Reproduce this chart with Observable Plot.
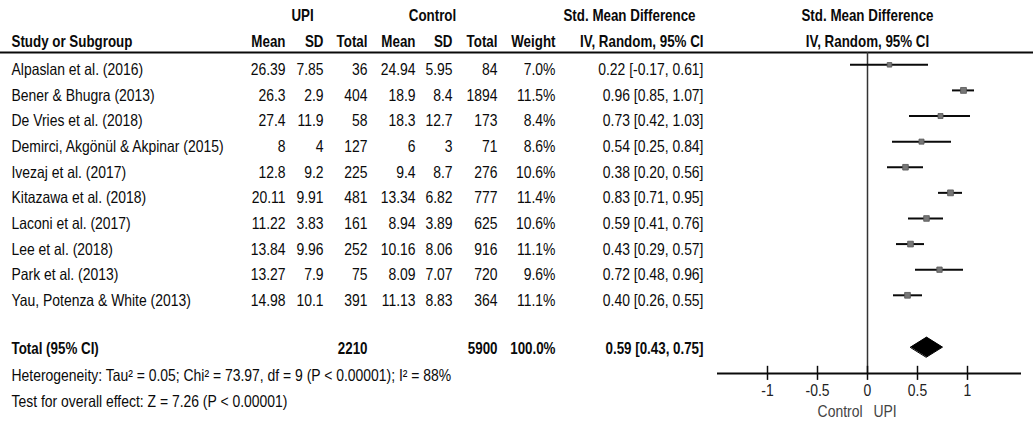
<!DOCTYPE html>
<html>
<head>
<meta charset="utf-8">
<script src="https://cdn.jsdelivr.net/npm/d3@7"></script>
<script src="https://cdn.jsdelivr.net/npm/@observablehq/plot@0.6"></script>
<style>
  html, body { margin: 0; padding: 0; background: #fff; }
  #chart svg { display: block; }
</style>
</head>
<body>
<div id="chart"></div>
<script>
// ---- Data ----
const studies = ["Alpaslan et al. (2016)", "Bener & Bhugra (2013)", "De Vries et al. (2018)",
  "Demirci, Akgönül & Akpinar (2015)", "Ivezaj et al. (2017)", "Kitazawa et al. (2018)",
  "Laconi et al. (2017)", "Lee et al. (2018)", "Park et al. (2013)", "Yau, Potenza & White (2013)"];
const upiMean = [26.39, 26.3, 27.4, 8, 12.8, 20.11, 11.22, 13.84, 13.27, 14.98];
const upiSD   = [7.85, 2.9, 11.9, 4, 9.2, 9.91, 3.83, 9.96, 7.9, 10.1];
const upiN    = [36, 404, 58, 127, 225, 481, 161, 252, 75, 391];
const ctlMean = [24.94, 18.9, 18.3, 6, 9.4, 13.34, 8.94, 10.16, 8.09, 11.13];
const ctlSD   = [5.95, 8.4, 12.7, 3, 8.7, 6.82, 3.89, 8.06, 7.07, 8.83];
const ctlN    = [84, 1894, 173, 71, 276, 777, 625, 916, 720, 364];
const weight  = [7.0, 11.5, 8.4, 8.6, 10.6, 11.4, 10.6, 11.1, 9.6, 11.1];
const smd     = [0.22, 0.96, 0.73, 0.54, 0.38, 0.83, 0.59, 0.43, 0.72, 0.40];
const ciLow   = [-0.17, 0.85, 0.42, 0.25, 0.20, 0.71, 0.41, 0.29, 0.48, 0.26];
const ciHigh  = [0.61, 1.07, 1.03, 0.84, 0.56, 0.95, 0.76, 0.57, 0.96, 0.55];
const totalUpiN = 2210, totalCtlN = 5900, totalWeight = 100.0;
const totalSmd = 0.59, totalLow = 0.43, totalHigh = 0.75;
const heterogeneityText = "Heterogeneity: Tau² = 0.05; Chi² = 73.97, df = 9 (P < 0.00001); I² = 88%";
const overallText = "Test for overall effect: Z = 7.26 (P < 0.00001)";
const axisTicks = [-1, -0.5, 0, 0.5, 1];
const tickLabels = ["-1", "-0.5", "0", "0.5", "1"];
const axisExtent = [-1.5, 1.54];

// ---- Table built from the arrays ----
const rows = studies.map((s, i) => ({
  i, study: s, upiMean: upiMean[i], upiSD: upiSD[i], upiN: upiN[i],
  ctlMean: ctlMean[i], ctlSD: ctlSD[i], ctlN: ctlN[i], weight: weight[i],
  smd: smd[i], lo: ciLow[i], hi: ciHigh[i]
}));
const fmtW = w => w.toFixed(1) + "%";
const fmtCI = (e, l, h) => `${e.toFixed(2)} [${l.toFixed(2)}, ${h.toFixed(2)}]`;

// ---- Layout (row index units on y, pixel offsets for table columns) ----
const Y = { head1: -2.13, head2: -1.11, rule: -0.68, total: 10.89, het: 11.93, test: 12.95,
            axis: 11.85, tickLab: 12.52, dirLab: 13.33 };
const forestDy = -5.2;
const cols = [
  {key: "upiMean", dx: 285}, {key: "upiSD", dx: 323}, {key: "upiN", dx: 367},
  {key: "ctlMean", dx: 415}, {key: "ctlSD", dx: 452}, {key: "ctlN", dx: 497},
  {key: "weight", dx: 555, fmt: fmtW}
];
const font = "'Liberation Sans', Arial, sans-serif";
const fs = 16.3;
const narrowRegular = 0.855, narrowBold = 0.82;   // emulate Arial Narrow
const ink = "#0a0a0a";
const k = v => () => v;

const colMarks = cols.map(c => Plot.text(rows, {
  y: "i", text: d => c.fmt ? c.fmt(d[c.key]) : String(d[c.key]),
  frameAnchor: "left", dx: c.dx, textAnchor: "end", fill: ink, fontSize: fs
}));

const headers1 = [
  {t: "UPI", dx: 302}, {t: "Control", dx: 432}, {t: "Std. Mean Difference", dx: 629}
];
const headers2 = [
  {t: "Mean", dx: 285}, {t: "SD", dx: 323}, {t: "Total", dx: 367},
  {t: "Mean", dx: 415}, {t: "SD", dx: 452}, {t: "Total", dx: 497},
  {t: "Weight", dx: 555}, {t: "IV, Random, 95% CI", dx: 703}
];

const diamond = [
  {x: totalLow, y: Y.total - 0.07},
  {x: totalSmd, y: Y.total - 0.07 - 0.39},
  {x: totalHigh, y: Y.total - 0.07},
  {x: totalSmd, y: Y.total - 0.07 + 0.39}
];

const chart = Plot.plot({
  width: 1033, height: 436,
  marginTop: 0, marginRight: 0, marginBottom: 0, marginLeft: 0,
  style: { fontFamily: font, background: "#fff" },
  x: { domain: [-8.67, 1.66], range: [0, 1033], axis: null },
  y: { domain: [0, 9], range: [69.5, 300], axis: null },
  r: { type: "sqrt", domain: [0, 11.5], range: [0, 3.3] },
  marks: [
    // header rule
    Plot.ruleY([Y.rule], {y: d => d, stroke: ink, strokeWidth: 2}),
    // headers
    ...headers1.map(h => Plot.text([h.t], {y: k(Y.head1), frameAnchor: "left", dx: h.dx, textAnchor: "middle", text: d => d, fontWeight: "bold", fontSize: fs, fill: ink})),
    Plot.text(["Std. Mean Difference"], {y: k(Y.head1), x: k(0), text: d => d, fontWeight: "bold", fontSize: fs, fill: ink}),
    Plot.text(["IV, Random, 95% CI"], {y: k(Y.head2), x: k(0), text: d => d, fontWeight: "bold", fontSize: fs, fill: ink}),
    Plot.text(["Study or Subgroup"], {y: k(Y.head2), frameAnchor: "left", dx: 11, textAnchor: "start", text: d => d, fontWeight: "bold", fontSize: fs, fill: ink}),
    ...headers2.map(h => Plot.text([h.t], {y: k(Y.head2), frameAnchor: "left", dx: h.dx, textAnchor: "end", text: d => d, fontWeight: "bold", fontSize: fs, fill: ink})),
    // study rows
    Plot.text(rows, {y: "i", text: "study", frameAnchor: "left", dx: 11, textAnchor: "start", fill: ink, fontSize: fs}),
    ...colMarks,
    Plot.text(rows, {y: "i", text: d => fmtCI(d.smd, d.lo, d.hi), frameAnchor: "left", dx: 703, textAnchor: "end", fill: ink, fontSize: fs}),
    // total row
    Plot.text(["Total (95% CI)"], {y: k(Y.total), frameAnchor: "left", dx: 11, textAnchor: "start", text: d => d, fontWeight: "bold", fontSize: fs, fill: ink}),
    Plot.text([totalUpiN], {y: k(Y.total), frameAnchor: "left", dx: 367, textAnchor: "end", text: d => String(d), fontWeight: "bold", fontSize: fs, fill: ink}),
    Plot.text([totalCtlN], {y: k(Y.total), frameAnchor: "left", dx: 497, textAnchor: "end", text: d => String(d), fontWeight: "bold", fontSize: fs, fill: ink}),
    Plot.text([totalWeight], {y: k(Y.total), frameAnchor: "left", dx: 555, textAnchor: "end", text: d => fmtW(d), fontWeight: "bold", fontSize: fs, fill: ink}),
    Plot.text([totalSmd], {y: k(Y.total), frameAnchor: "left", dx: 703, textAnchor: "end", text: () => fmtCI(totalSmd, totalLow, totalHigh), fontWeight: "bold", fontSize: fs, fill: ink}),
    // footer text
    Plot.text([heterogeneityText], {y: k(Y.het), frameAnchor: "left", dx: 11, textAnchor: "start", text: d => d, fontSize: fs, fill: ink}),
    Plot.text([overallText], {y: k(Y.test), frameAnchor: "left", dx: 11, textAnchor: "start", text: d => d, fontSize: fs, fill: ink}),
    // forest: zero line, axis, ticks
    Plot.ruleX([0], {x: d => d, y1: k(Y.rule), y2: k(Y.axis), stroke: "#333", strokeWidth: 1.5}),
    Plot.ruleY([Y.axis], {y: d => d, x1: k(axisExtent[0]), x2: k(axisExtent[1]), stroke: ink, strokeWidth: 2}),
    Plot.ruleX(axisTicks, {x: d => d, y1: k(Y.axis - 0.28), y2: k(Y.axis + 0.27), stroke: ink, strokeWidth: 1.5}),
    Plot.text(axisTicks, {x: d => d, y: k(Y.tickLab), text: (d, i) => tickLabels[i], fill: "#222", fontSize: fs}),
    Plot.text(["Control"], {x: k(0), y: k(Y.dirLab), text: d => d, dx: -5, textAnchor: "end", fill: "#444", fontSize: fs}),
    Plot.text(["UPI"], {x: k(0), y: k(Y.dirLab), text: d => d, dx: 6, textAnchor: "start", fill: "#444", fontSize: fs}),
    // CIs and squares
    Plot.ruleY(rows, {y: "i", x1: "lo", x2: "hi", dy: forestDy, stroke: ink, strokeWidth: 2}),
    Plot.dot(rows, {y: "i", x: "smd", r: "weight", dy: forestDy, symbol: "square", fill: "#777", stroke: "#555", strokeWidth: 0.8}),
    // pooled diamond
    Plot.line(diamond, {x: "x", y: "y", fill: "#000", stroke: "#000", strokeWidth: 1, curve: "linear-closed"}),
  ]
});
// condense glyphs horizontally around each text's anchor (Arial Narrow look)
chart.querySelectorAll("text").forEach(el => {
  const wEl = el.closest("[font-weight]");
  const bold = wEl && wEl.getAttribute("font-weight") === "bold";
  const t = el.getAttribute("transform") || "";
  el.setAttribute("transform", `${t} scale(${bold ? narrowBold : narrowRegular},1)`);
});
document.getElementById("chart").append(chart);
</script>
</body>
</html>
